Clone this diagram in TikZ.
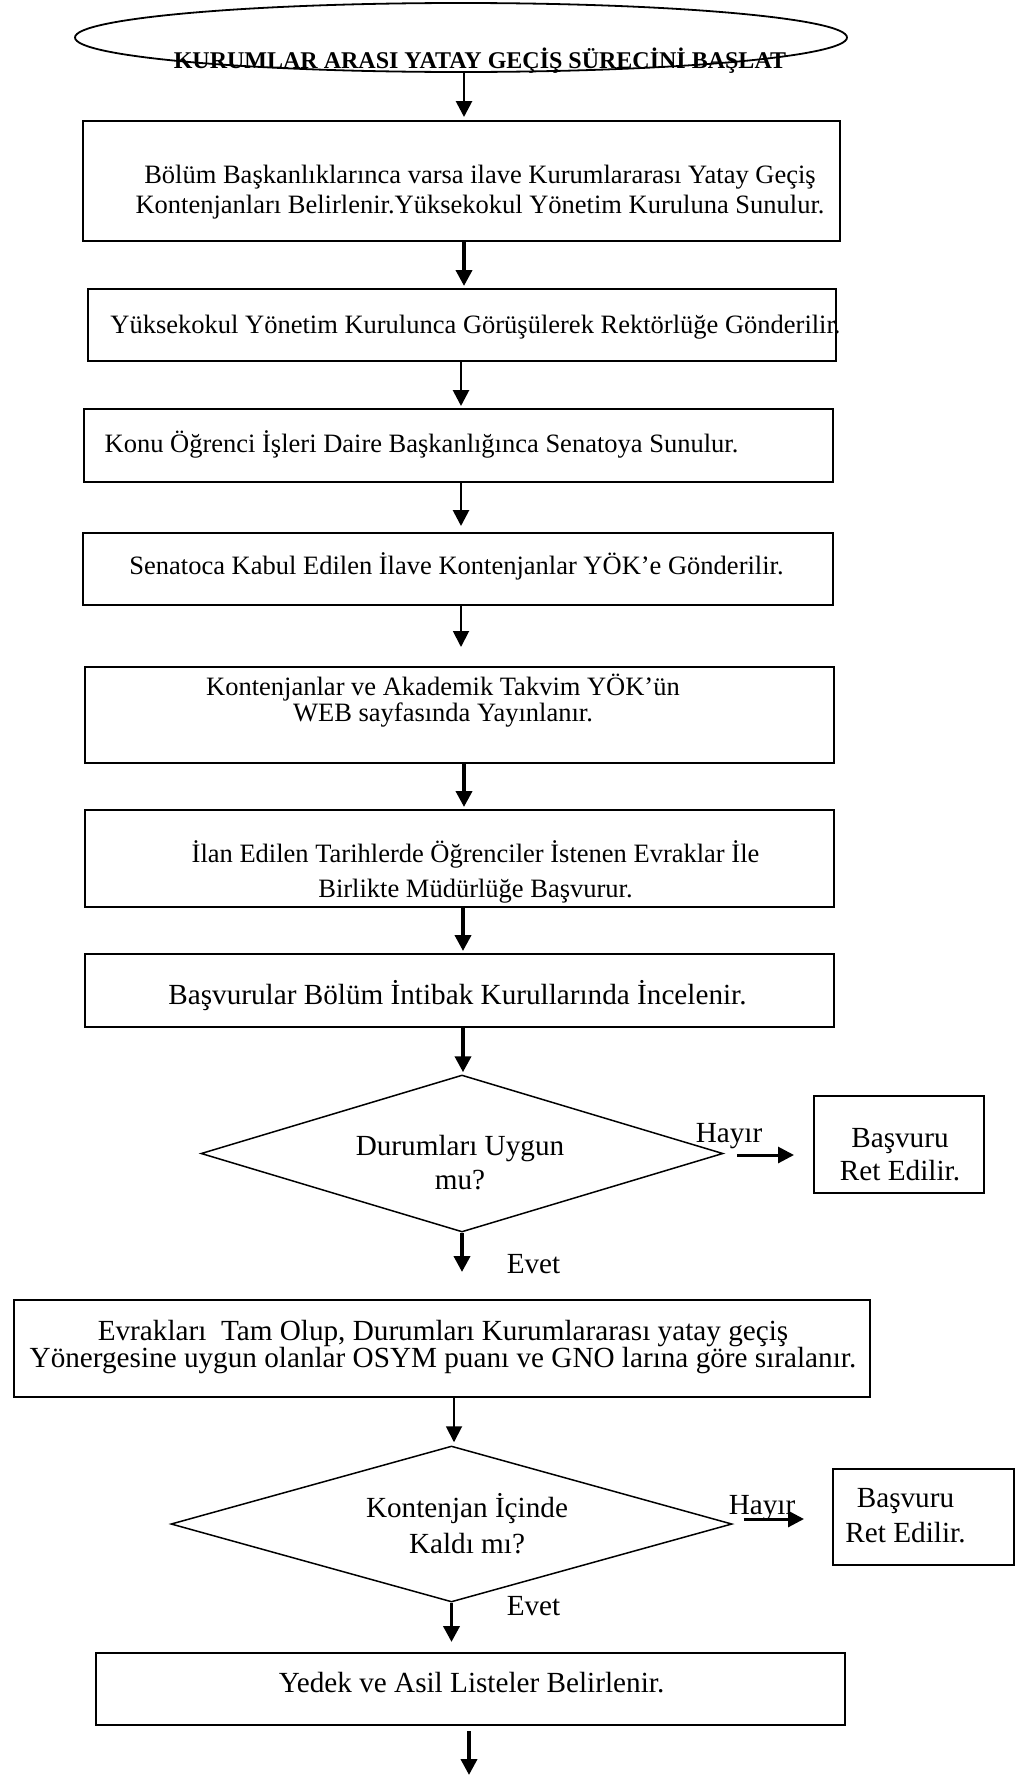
\documentclass[tikz,border=0pt]{standalone}
\usepackage{fontspec}
\setmainfont{Liberation Serif}
\usetikzlibrary{shapes.geometric}
\usetikzlibrary{arrows.meta}

\begin{document}
\begin{tikzpicture}[x=1pt,y=-1pt,
  startend/.style={draw, ellipse, line width=1.8pt, minimum width=772pt, minimum height=69pt},
  stepbox/.style={draw, line width=2pt, minimum width=749pt, minimum height=72pt},
  rejectbox/.style={draw, line width=2pt, minimum width=170pt, minimum height=97pt},
  decision/.style={draw, diamond, line width=1.5pt, inner sep=0pt},
  txt/.style={anchor=base, align=center, inner sep=0pt, font=\fontsize{26.5}{30}\selectfont},
  bigtxt/.style={anchor=base, align=center, inner sep=0pt, font=\fontsize{29.2}{34}\selectfont},
  flow/.style={-{Triangle[length=16pt,width=16pt]}, line width=2.8pt},
  boldflow/.style={flow, line width=3.8pt},
  thinflow/.style={flow, line width=1.9pt}]
\useasboundingbox (0,0) rectangle (1016,1775);
% start
\node[startend] (start) at (461,37.5) {};
\node[txt, font=\bfseries\fontsize{24}{28}\selectfont] (t0) at (480,68) {KURUMLAR ARASI YATAY GEÇİŞ SÜRECİNİ BAŞLAT};
% steps
\node[stepbox, minimum width=757pt, minimum height=120pt] (b1) at (461.5,181) {};
\node[txt] (t1) at (480,213) {Bölüm Başkanlıklarınca varsa ilave Kurumlararası Yatay Geçiş\\Kontenjanları Belirlenir.Yüksekokul Yönetim Kuruluna Sunulur.};
\node[stepbox, minimum width=748pt] (b2) at (462,325) {};
\node[txt] (t2) at (475.5,333) {Yüksekokul Yönetim Kurulunca Görüşülerek Rektörlüğe Gönderilir.};
\node[stepbox, minimum height=73pt] (b3) at (458.5,445.5) {};
\node[txt] (t3) at (421.5,452) {Konu Öğrenci İşleri Daire Başkanlığınca Senatoya Sunulur.};
\node[stepbox, minimum width=750pt] (b4) at (458,569) {};
\node[txt] (t4) at (456.5,574) {Senatoca Kabul Edilen İlave Kontenjanlar YÖK’e Gönderilir.};
\node[stepbox, minimum height=96pt] (b5) at (459.5,715) {};
\node[txt, font=\fontsize{26.5}{26}\selectfont] (t5) at (443,721) {Kontenjanlar ve Akademik Takvim YÖK’ün\\WEB sayfasında Yayınlanır.};
\node[stepbox, minimum height=97pt] (b6) at (459.5,858.5) {};
\node[txt, font=\fontsize{26.5}{35}\selectfont] (t6) at (475.5,897) {İlan Edilen Tarihlerde Öğrenciler İstenen Evraklar İle\\Birlikte Müdürlüğe Başvurur.};
\node[stepbox, minimum height=73pt] (b7) at (459.5,990.5) {};
\node[bigtxt] (t7) at (457.5,1004) {Başvurular Bölüm İntibak Kurullarında İncelenir.};
% first decision
\node[decision, minimum width=522pt, minimum height=157pt] (d1) at (462,1153.5) {};
\node[bigtxt] (t8) at (460,1189) {Durumları Uygun\\mu?};
\node[bigtxt] (h1) at (729,1142) {Hayır};
\node[rejectbox] (r1) at (899,1144.5) {};
\node[bigtxt, font=\fontsize{29.2}{33}\selectfont] (t9) at (900,1180) {Başvuru\\Ret Edilir.};
\node[bigtxt] (e1) at (533.5,1273) {Evet};
\node[stepbox, minimum width=856pt, minimum height=97pt] (b8) at (442,1348.5) {};
\node[bigtxt, font=\fontsize{29.2}{27}\selectfont] (t10) at (443,1367) {Evrakları~ Tam Olup, Durumları Kurumlararası yatay geçiş\\Yönergesine uygun olanlar OSYM puanı ve GNO larına göre sıralanır.};
% second decision
\node[decision, minimum width=561pt, minimum height=156pt] (d2) at (451.5,1524) {};
\node[bigtxt, font=\fontsize{29.2}{36}\selectfont] (t11) at (467,1553) {Kontenjan İçinde\\Kaldı mı?};
\node[bigtxt] (h2) at (762,1514) {Hayır};
\node[rejectbox, minimum width=181pt, minimum height=96pt] (r2) at (923.5,1517) {};
\node[bigtxt, font=\fontsize{29.2}{35}\selectfont] (t12) at (905.5,1542) {Başvuru\\Ret Edilir.};
\node[bigtxt] (e2) at (533.5,1615) {Evet};
\node[stepbox] (b9) at (470.5,1689) {};
\node[bigtxt] (t13) at (471.5,1692) {Yedek ve Asil Listeler Belirlenir.};
\coordinate (fin) at (469,1775);
% arrows
\draw[flow, shorten >=3pt] ([xshift=3pt]start.south) -- ([xshift=3pt]start.south |- b1.north);
\draw[boldflow, shorten >=2pt] ([xshift=2.5pt]b1.south) -- ([xshift=2.5pt]b1.south |- b2.north);
\draw[flow, shorten >=2pt] ([xshift=-1pt]b2.south) -- ([xshift=-1pt]b2.south |- b3.north);
\draw[flow, shorten >=6pt] ([xshift=2.5pt]b3.south) -- ([xshift=2.5pt]b3.south |- b4.north);
\draw[thinflow, shorten >=19pt] ([xshift=3pt]b4.south) -- ([xshift=3pt]b4.south |- b5.north);
\draw[boldflow, shorten >=2pt] ([xshift=4.5pt]b5.south) -- ([xshift=4.5pt]b5.south |- b6.north);
\draw[boldflow, shorten >=2pt] ([xshift=3.5pt]b6.south) -- ([xshift=3.5pt]b6.south |- b7.north);
\draw[boldflow, shorten >=2pt] ([xshift=3.5pt]b7.south) -- ([xshift=3.5pt]b7.south |- d1.north);
\draw[flow, line width=3pt, shorten <=13pt, shorten >=19pt] ([yshift=-1.5pt]d1.east) -- ([yshift=-1.5pt]d1.east -| r1.west);
\draw[boldflow, shorten >=27pt] (d1.south) -- (d1.south |- b8.north);
\draw[thinflow, shorten >=3pt] ([xshift=12pt]b8.south) -- ([xshift=12pt]b8.south |- d2.north);
\draw[flow, line width=3pt, shorten <=11pt, shorten >=28pt] ([yshift=5pt]d2.east) -- ([yshift=5pt]d2.east -| r2.west);
\draw[boldflow, shorten >=10pt] (d2.south) -- (d2.south |- b9.north);
\draw[boldflow, shorten <=5pt] (b9.south -| fin) -- (fin);
\end{tikzpicture}
\end{document}
